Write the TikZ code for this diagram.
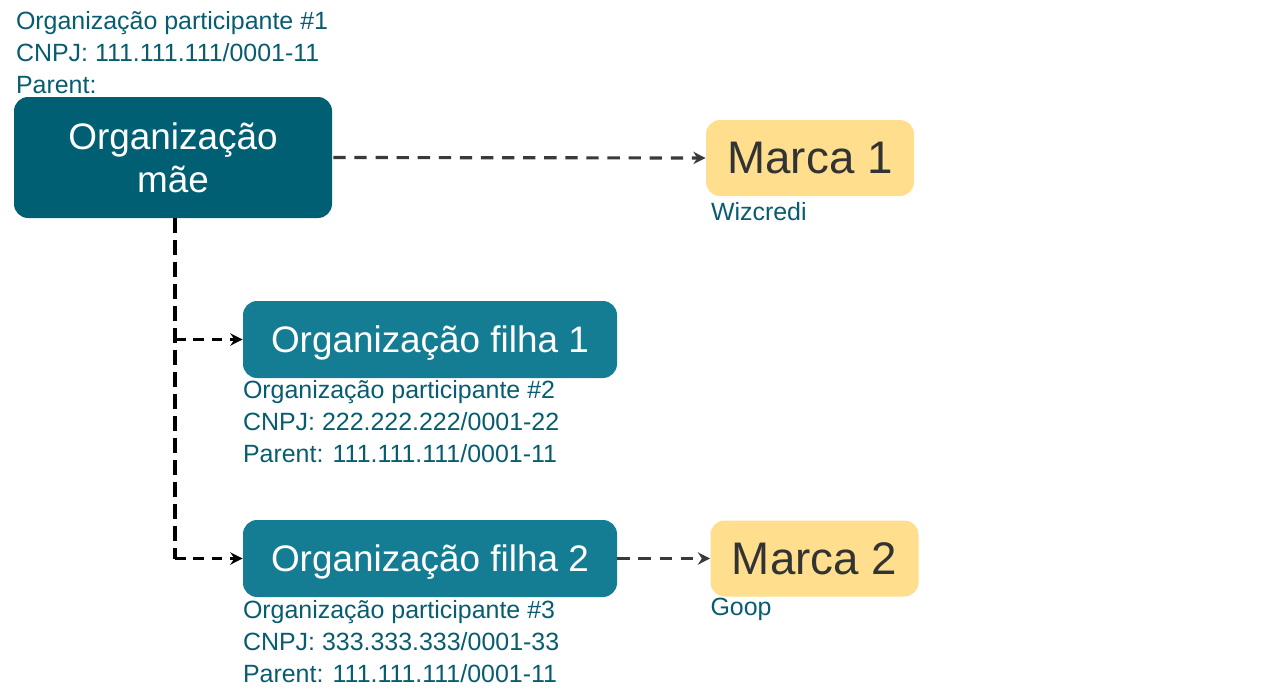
\documentclass[tikz,border=0pt]{standalone}
\usepackage{fontspec}
\setmainfont{Liberation Sans}
\usetikzlibrary{arrows.meta,positioning}

\definecolor{maeteal}{RGB}{0,95,115}
\definecolor{filhateal}{RGB}{20,125,148}
\definecolor{infotext}{RGB}{8,92,112}
\definecolor{marcafill}{RGB}{255,223,142}
\definecolor{marcatext}{RGB}{51,51,51}
\definecolor{linkgray}{RGB}{58,58,58}

\begin{document}
\begin{tikzpicture}[
  font=\fontsize{14.2}{18.1}\selectfont,
  org/.style={rounded corners=8pt,text=white,align=center,inner sep=0pt},
  marca/.style={fill=marcafill,rounded corners=8pt,text=marcatext,inner sep=0pt,
    minimum width=4.16cm,minimum height=1.52cm,font=\fontsize{26}{30}\selectfont},
  info/.style={text=infotext,align=left,inner sep=0pt},
  tip/.style={-{Stealth[length=7pt,width=7pt]}},
  lnk/.style={tip,dash pattern=on 7pt off 5pt,line width=1.8pt,draw=linkgray},
  trunk/.style={dash pattern=on 8.5pt off 4pt,line width=1.8pt},
  branch/.style={tip,dash pattern=on 6pt off 4.5pt,line width=1.8pt}
]
\useasboundingbox (0,0) rectangle (25.22,-14);

% ---- organizations ----
\node[org,fill=maeteal,minimum width=6.36cm,minimum height=2.42cm,
      font=\fontsize{21}{24.4}\selectfont] (mae) at (3.46,-3.15) {Organização\\mãe};
\node[org,fill=filhateal,minimum width=7.48cm,minimum height=1.54cm,text depth=0pt,
      font=\fontsize{21}{25}\selectfont] (filha1) at (8.6,-6.79) {Organização filha 1};
\node[org,fill=filhateal,minimum width=7.48cm,minimum height=1.54cm,text depth=0pt,
      font=\fontsize{21}{25}\selectfont] (filha2) at (8.6,-11.17) {Organização filha 2};

% ---- brands ----
\node[marca] (marca1) at (16.2,-3.16) {Marca 1};
\node[marca] (marca2) at (16.29,-11.17) {Marca 2};

% ---- info labels ----
\node[info,anchor=south west] (infomae) at ([xshift=0.04cm,yshift=0.06cm]mae.north west)
  {Organização participante \#1\\CNPJ: 111.111.111/0001-11\\Parent:};
\node[info,anchor=north west] (infofilha1) at ([yshift=-0.04cm]filha1.south west)
  {Organização participante \#2\\CNPJ: 222.222.222/0001-22\\Parent: 111.111.111/0001-11};
\node[info,anchor=north west] (infofilha2) at ([yshift=-0.06cm]filha2.south west)
  {Organização participante \#3\\CNPJ: 333.333.333/0001-33\\Parent: 111.111.111/0001-11};
\node[info,anchor=north west] (wizcredi) at ([xshift=0.1cm,yshift=-0.12cm]marca1.south west) {Wizcredi};
\node[info,anchor=north west] (goop) at ([yshift=-0.02cm]marca2.south west) {Goop};

% ---- links ----
\coordinate (corner) at ([xshift=0.04cm]mae.south |- filha2.west);
\coordinate (fork) at ([xshift=0.04cm]mae.south |- filha1.west);
\draw[lnk] ([xshift=0.02cm]mae.east) -- (marca1.west);
\draw[trunk] ([xshift=0.04cm]mae.south) -- (corner);
\draw[branch] (fork) -- (filha1.west);
\draw[branch] (corner) -- (filha2.west);
\draw[lnk] (filha2.east) -- (marca2.west);

\end{tikzpicture}
\end{document}
